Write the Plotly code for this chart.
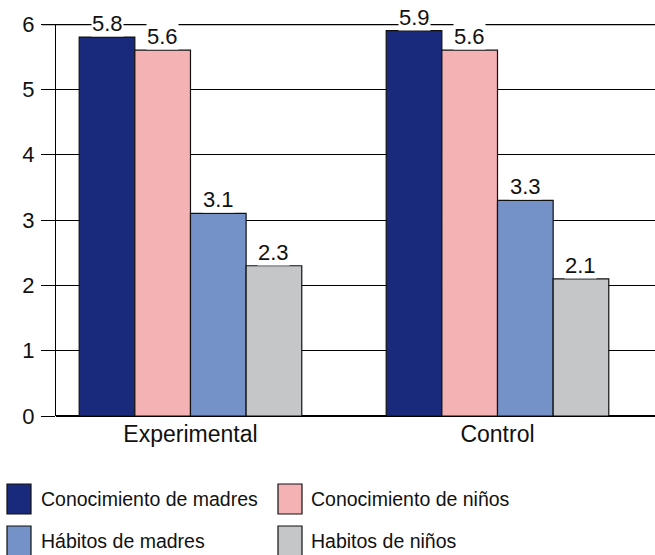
import plotly.graph_objects as go

# Groups and series
groups = ["Experimental", "Control"]
series_names = ["Conocimiento de madres", "Conocimiento de niños",
                "Hábitos de madres", "Habitos de niños"]
conoc_madres = [5.8, 5.9]
conoc_ninos = [5.6, 5.6]
habitos_madres = [3.1, 3.3]
habitos_ninos = [2.3, 2.1]
y_ticks = [0, 1, 2, 3, 4, 5, 6]

series_values = [conoc_madres, conoc_ninos, habitos_madres, habitos_ninos]
colors = ["#192a7c", "#f4b2b4", "#7492c7", "#c5c6c8"]

W, H = 655, 555
ML, MR, MT, MB = 56, 0, 24, 139
PW, PH = W - ML - MR, H - MT - MB
FONT = "Liberation Sans, Arial, Helvetica, sans-serif"
INK = "#111111"
BARGAP = 0.275


def px_x(px):
    return (px - ML) / PW


def px_y(py):
    return (H - MB - py) / PH


fig = go.Figure()
for name, vals, col in zip(series_names, series_values, colors):
    fig.add_trace(go.Bar(
        x=list(range(len(groups))), y=vals, name=name,
        marker=dict(color=col, line=dict(color=INK, width=1.2)),
        showlegend=False,
    ))

# value labels above bars, with white boxes so the top line is interrupted
n = len(series_names)
bw = (1 - BARGAP) / n
annotations = []
for i, vals in enumerate(series_values):
    for g, v in enumerate(vals):
        annotations.append(dict(
            x=g + (i - (n - 1) / 2) * bw, y=v, xref="x", yref="y",
            text=f"{v:.1f}", showarrow=False, yanchor="bottom", yshift=0,
            font=dict(family=FONT, size=22, color=INK),
            bgcolor="white", borderpad=0,
        ))

# legend drawn as boxes + labels in two columns
shapes = []
leg_cols = [(7, 41), (278, 311)]
leg_rows = [484, 526]
for k, (name, col) in enumerate(zip(series_names, colors)):
    cx, tx = leg_cols[k % 2]
    ry = leg_rows[k // 2]
    shapes.append(dict(
        type="rect", xref="paper", yref="paper",
        x0=px_x(cx), x1=px_x(cx + 24), y0=px_y(ry), y1=px_y(ry + 30),
        fillcolor=col, line=dict(color=INK, width=1.2),
    ))
    annotations.append(dict(
        x=px_x(tx - 2), y=px_y(ry + 15), xref="paper", yref="paper",
        text=name, showarrow=False, xanchor="left", yanchor="middle",
        font=dict(family=FONT, size=19.5, color=INK),
    ))

# heavier top line at y = 6
shapes.append(dict(
    type="line", xref="paper", yref="y", x0=px_x(42), x1=1, y0=6, y1=6,
    line=dict(color="#000000", width=2.5), layer="below",
))

fig.update_layout(
    width=W, height=H,
    margin=dict(l=ML, r=MR, t=MT, b=MB, pad=0),
    paper_bgcolor="white", plot_bgcolor="white",
    barmode="group", bargap=BARGAP, bargroupgap=0,
    font=dict(family=FONT, size=20, color=INK),
    annotations=annotations, shapes=shapes,
    xaxis=dict(
        tickmode="array", tickvals=list(range(len(groups))), ticktext=groups,
        range=[-0.438, 1.513],
        showgrid=False, zeroline=False, showline=False, ticks="",
        tickfont=dict(family=FONT, size=23, color=INK),
        ticklabelstandoff=2,
    ),
    yaxis=dict(
        range=[0, 6], tickvals=y_ticks, ticks="outside", ticklen=14,
        tickwidth=1.3, tickcolor="#000000",
        showgrid=True, gridcolor="#000000", gridwidth=1.3,
        zeroline=True, zerolinecolor="#000000", zerolinewidth=1.5,
        showline=True, linecolor="#000000", linewidth=1.3,
        tickfont=dict(family=FONT, size=22, color=INK),
        ticklabelstandoff=2,
    ),
)

fig.write_html("out.html")
